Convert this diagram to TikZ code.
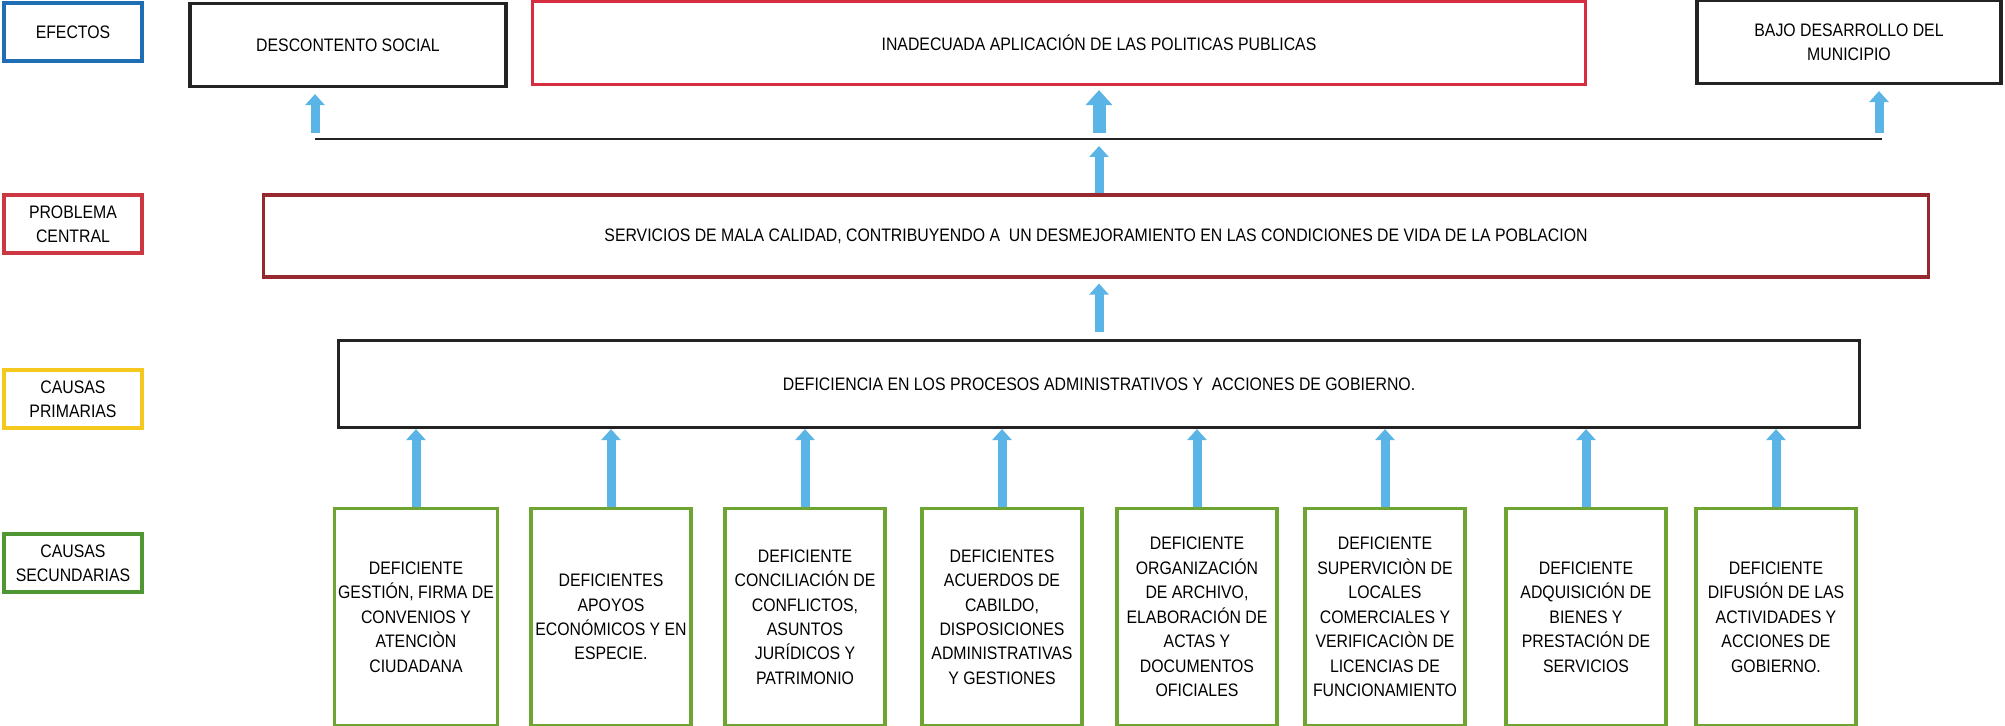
\documentclass[tikz,border=0pt]{standalone}
\usepackage{fontspec}
\setmainfont{Liberation Sans}[FakeStretch=0.875]
\usepackage{tikz}
\usetikzlibrary{arrows.meta,positioning,calc}

\definecolor{negro}{RGB}{35,35,35}
\definecolor{azulborde}{RGB}{31,110,180}
\definecolor{rojoetiq}{RGB}{205,55,65}
\definecolor{rojo}{RGB}{215,45,65}
\definecolor{rojooscuro}{RGB}{150,40,48}
\definecolor{amarillo}{RGB}{245,200,30}
\definecolor{verdeetiq}{RGB}{80,150,50}
\definecolor{verdecaja}{RGB}{110,165,50}
\definecolor{azulflecha}{RGB}{90,180,230}

\begin{document}
\begin{tikzpicture}[x=0.02cm, y=-0.02cm,
  caja/.style={draw=negro, line width=1.8pt, fill=white, align=center,
    font=\fontsize{10.3}{13.9}\selectfont, inner sep=2pt},
  etiqueta/.style={caja, minimum width=2.76cm, minimum height=1.16cm},
  efecto/.style={caja, minimum height=1.66cm},
  causa/.style={caja, draw=verdecaja, minimum width=3.2cm, minimum height=4.34cm},
  flecha/.style={-{Triangle[width=0.38cm,length=0.22cm]}, line width=0.18cm, draw=azulflecha},
  flechag/.style={flecha, -{Triangle[width=0.52cm,length=0.3cm]}, line width=0.26cm}
]
  \useasboundingbox (0,0) rectangle (2005,726);

  % etiquetas de nivel
  \node[etiqueta, draw=azulborde] (lefectos) at (73,32) {EFECTOS};
  \node[etiqueta, draw=rojoetiq] (lproblema) at (73,224) {PROBLEMA\\CENTRAL};
  \node[etiqueta, draw=amarillo] (lprimarias) at (73,399) {CAUSAS\\PRIMARIAS};
  \node[etiqueta, draw=verdeetiq] (lsecundarias) at (73,563) {CAUSAS\\SECUNDARIAS};

  % efectos
  \node[efecto, minimum width=6.32cm] (descontento) at (348,45) {DESCONTENTO SOCIAL};
  \node[efecto, draw=rojo, minimum width=21.08cm] (inadecuada) at (1059,43)
    {\hspace*{1.6cm}INADECUADA APLICACIÓN DE LAS POLITICAS PUBLICAS};
  \node[efecto, minimum width=6.08cm] (bajo) at (1849,42) {BAJO DESARROLLO DEL\\MUNICIPIO};

  \coordinate (lineaizq) at (315,139);
  \coordinate (lineader) at (1882,139);
  \draw[line width=1.2pt, draw=negro] (lineaizq) -- (lineader);

  % problema central y causa primaria
  \node[caja, draw=rojooscuro, minimum width=33.3cm, minimum height=1.64cm] (central) at (1096,236)
    {SERVICIOS DE MALA CALIDAD, CONTRIBUYENDO A \ UN DESMEJORAMIENTO EN LAS CONDICIONES DE VIDA DE LA POBLACION};
  \node[caja, minimum width=30.44cm, minimum height=1.74cm] (primaria) at (1099,384)
    {DEFICIENCIA EN LOS PROCESOS ADMINISTRATIVOS Y \ ACCIONES DE GOBIERNO.};

  % causas secundarias
  \node[causa] (gestion) at (416,617)
    {DEFICIENTE\\GESTIÓN, FIRMA DE\\CONVENIOS Y\\ATENCIÒN\\CIUDADANA};
  \node[causa] (apoyos) at (611,617)
    {DEFICIENTES\\APOYOS\\ECONÓMICOS Y EN\\ESPECIE.};
  \node[causa] (conciliacion) at (805,617)
    {DEFICIENTE\\CONCILIACIÓN DE\\CONFLICTOS,\\ASUNTOS\\JURÍDICOS Y\\PATRIMONIO};
  \node[causa] (cabildo) at (1002,617)
    {DEFICIENTES\\ACUERDOS DE\\CABILDO,\\DISPOSICIONES\\ADMINISTRATIVAS\\Y GESTIONES};
  \node[causa] (archivo) at (1197,617)
    {DEFICIENTE\\ORGANIZACIÓN\\DE ARCHIVO,\\ELABORACIÓN DE\\ACTAS Y\\DOCUMENTOS\\OFICIALES};
  \node[causa] (locales) at (1385,617)
    {DEFICIENTE\\SUPERVICIÒN DE\\LOCALES\\COMERCIALES Y\\VERIFICACIÒN DE\\LICENCIAS DE\\FUNCIONAMIENTO};
  \node[causa] (bienes) at (1586,617)
    {DEFICIENTE\\ADQUISICIÓN DE\\BIENES Y\\PRESTACIÓN DE\\SERVICIOS};
  \node[causa] (difusion) at (1776,617)
    {DEFICIENTE\\DIFUSIÓN DE LAS\\ACTIVIDADES Y\\ACCIONES DE\\GOBIERNO.};

  \draw[flecha] (gestion.north) -- (gestion.north |- primaria.south);
  \draw[flecha] (apoyos.north) -- (apoyos.north |- primaria.south);
  \draw[flecha] (conciliacion.north) -- (conciliacion.north |- primaria.south);
  \draw[flecha] (cabildo.north) -- (cabildo.north |- primaria.south);
  \draw[flecha] (archivo.north) -- (archivo.north |- primaria.south);
  \draw[flecha] (locales.north) -- (locales.north |- primaria.south);
  \draw[flecha] (bienes.north) -- (bienes.north |- primaria.south);
  \draw[flecha] (difusion.north) -- (difusion.north |- primaria.south);

  \draw[flecha, shorten <=0.14cm, shorten >=0.1cm] (primaria.north) -- (primaria.north |- central.south);
  \draw[flecha, shorten >=0.14cm] (primaria.north |- central.north) -- (primaria.north |- lineaizq);
  \draw[flechag, shorten <=0.12cm, shorten >=0.08cm] (primaria.north |- lineaizq) -- (primaria.north |- inadecuada.south);
  \draw[flecha, shorten <=0.12cm, shorten >=0.12cm] (lineaizq) -- (lineaizq |- descontento.south);
  \draw[flecha, shorten <=0.12cm, shorten >=0.12cm] ([xshift=-0.06cm]lineader) -- ([xshift=-0.06cm]lineader |- bajo.south);
\end{tikzpicture}
\end{document}
